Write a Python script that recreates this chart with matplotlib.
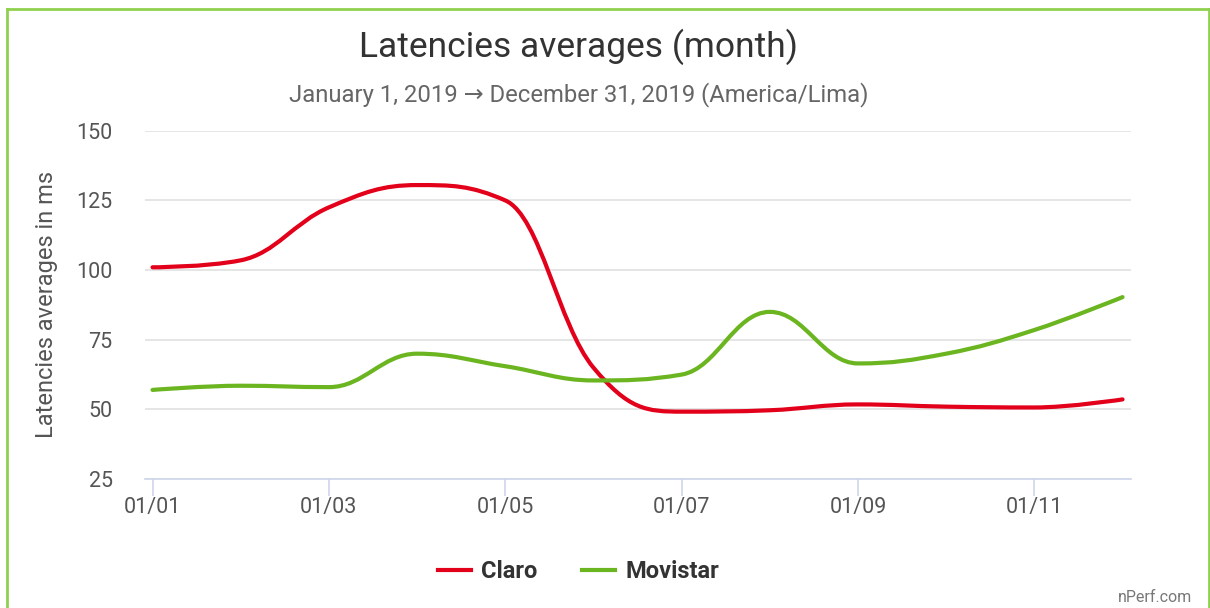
import numpy as np
import matplotlib as mpl
mpl.use('Agg')
import matplotlib.pyplot as plt
from matplotlib.path import Path
from matplotlib.patches import PathPatch
from matplotlib.lines import Line2D

plt.rcParams['font.family'] = ['Roboto', 'DejaVu Sans']

# Data (monthly averages, ms)
months = ['01/01', '01/02', '01/03', '01/04', '01/05', '01/06',
          '01/07', '01/08', '01/09', '01/10', '01/11', '01/12']
claro = [101, 103.5, 122.5, 130.5, 125, 65, 49.2, 49.7, 51.8, 51, 50.7, 53.6]
movistar = [57, 58.5, 58, 70, 65.5, 60.4, 62.5, 85, 66.5, 70, 78.5, 90.3]
tick_labels = ['01/01', '01/03', '01/05', '01/07', '01/09', '01/11']
yticks = [25, 50, 75, 100, 125, 150]

red = '#e2001a'
green = '#6ab520'


def spline_path(xs, ys, smoothing=1.5):
    # Highcharts-like spline: cubic bezier through each point
    n = len(xs)
    denom = smoothing + 1
    lc = [(xs[0], ys[0])] * n
    rc = [(xs[0], ys[0])] * n
    for i in range(n):
        px, py = xs[i], ys[i]
        if i == 0 or i == n - 1:
            lc[i] = (px, py)
            rc[i] = (px, py)
            continue
        lx, ly = xs[i - 1], ys[i - 1]
        nx, ny = xs[i + 1], ys[i + 1]
        lcx = (smoothing * px + lx) / denom
        lcy = (smoothing * py + ly) / denom
        rcx = (smoothing * px + nx) / denom
        rcy = (smoothing * py + ny) / denom
        corr = ((rcy - lcy) * (rcx - px)) / (rcx - lcx) + py - rcy
        lcy += corr
        rcy += corr
        if lcy > ly and lcy > py:
            lcy = max(ly, py)
            rcy = 2 * py - lcy
        elif lcy < ly and lcy < py:
            lcy = min(ly, py)
            rcy = 2 * py - lcy
        if rcy > ny and rcy > py:
            rcy = max(ny, py)
            lcy = 2 * py - rcy
        elif rcy < ny and rcy < py:
            rcy = min(ny, py)
            lcy = 2 * py - rcy
        lc[i] = (lcx, lcy)
        rc[i] = (rcx, rcy)
    verts = [(xs[0], ys[0])]
    codes = [Path.MOVETO]
    for i in range(1, n):
        verts += [rc[i - 1], lc[i], (xs[i], ys[i])]
        codes += [Path.CURVE4] * 3
    return Path(verts, codes)


fig = plt.figure(figsize=(12.10, 6.08), dpi=100)
ax = fig.add_axes([0.1195, 0.212, 0.8155, 0.573])

x = np.arange(len(months))
for vals, col in [(claro, red), (movistar, green)]:
    ax.add_patch(PathPatch(spline_path(x, vals), facecolor='none',
                           edgecolor=col, lw=3, capstyle='round', zorder=3))

ax.set_xlim(-0.09, 11.1)
ax.set_ylim(25, 150)
ax.set_yticks(yticks)
ax.set_yticklabels([str(v) for v in yticks])
ax.set_xticks([months.index(t) for t in tick_labels])
ax.set_xticklabels(tick_labels)
ax.grid(axis='y', color='#e0e0e0', lw=1.2)
ax.set_axisbelow(True)
for s in ['top', 'right', 'left']:
    ax.spines[s].set_visible(False)
ax.spines['bottom'].set_color('#ccd6eb')
ax.spines['bottom'].set_linewidth(1.2)
ax.tick_params(axis='y', length=0, pad=23, labelsize=15.5, labelcolor='#555555')
ax.tick_params(axis='x', length=12, width=1.2, color='#ccd6eb', pad=1,
               labelsize=15.5, labelcolor='#555555')
ax.set_ylabel('Latencies averages in ms', fontsize=17, color='#555555', labelpad=13)

fig.text(0.478, 0.923, 'Latencies averages (month)', ha='center', va='center',
         fontsize=25.5, color='#333333')
fig.text(0.478, 0.845, 'January 1, 2019 \u2192 December 31, 2019 (America/Lima)',
         ha='center', va='center', fontsize=17.2, color='#666666')

handles = [Line2D([], [], color=red, lw=3), Line2D([], [], color=green, lw=3)]
leg = fig.legend(handles, ['Claro', 'Movistar'], loc='center', ncol=2,
                 bbox_to_anchor=(0.478, 0.06), frameon=False, handlelength=1.4,
                 columnspacing=1.85, handletextpad=0.45,
                 prop={'weight': 'bold', 'size': 17})
for t in leg.get_texts():
    t.set_color('#333333')

fig.text(0.985, 0.018, 'nPerf.com', ha='right', va='center', fontsize=11.5,
         color='#777777')

# green frame
frame_col = '#8fd14f'
fig.add_artist(Line2D([0.006, 0.006], [0, 0.985], color=frame_col, lw=2,
                      transform=fig.transFigure))
fig.add_artist(Line2D([0.006, 1.0], [0.985, 0.985], color=frame_col, lw=2,
                      transform=fig.transFigure))
fig.add_artist(Line2D([0.999, 0.999], [0, 0.985], color=frame_col, lw=2,
                      transform=fig.transFigure))

fig.savefig('out.png', dpi=100)
